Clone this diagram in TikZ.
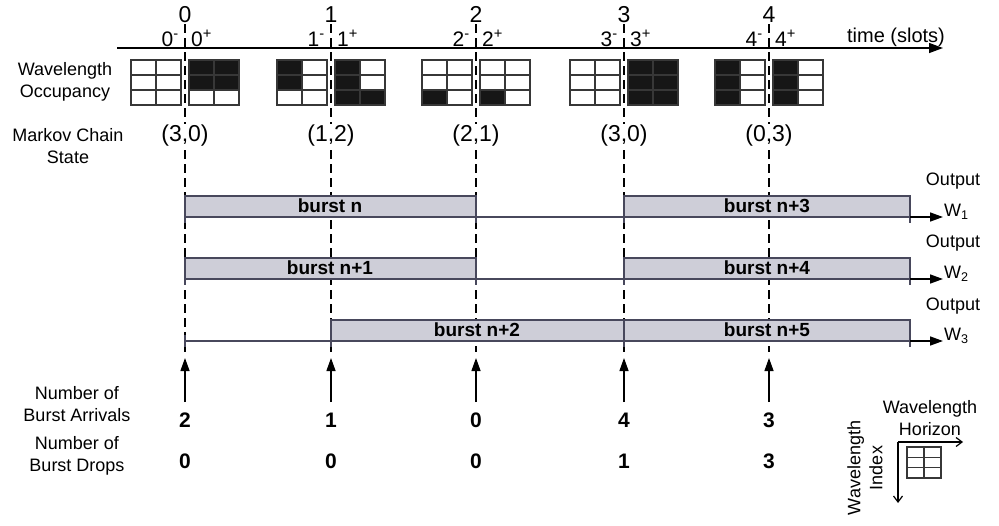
\documentclass[tikz,border=0pt]{standalone}
\usepackage{fontspec}
\setmainfont{Liberation Sans}
\usetikzlibrary{arrows.meta}
\definecolor{barfill}{RGB}{206,206,216}
\definecolor{barline}{RGB}{72,72,92}
\definecolor{cellblack}{RGB}{22,22,22}
\definecolor{gridcol}{RGB}{55,55,55}
\newcommand{\occcell}[2]{\fill[cellblack] ({(#1)*25},{(#2)*15}) rectangle ++(25,15);}
\newcommand{\occgrid}[2]{%
  \begin{scope}[shift={(#1,60)}]
    #2
    \draw[gridline] (0,0) rectangle (50,45) (25,0) -- (25,45) (0,15) -- (50,15) (0,30) -- (50,30);
  \end{scope}}
\begin{document}
\begin{tikzpicture}[x=1pt,y=-1pt,
  lbl/.style={font=\fontsize{18}{22}\selectfont, inner sep=0pt, align=center},
  tnum/.style={font=\fontsize{23}{25}\selectfont, inner sep=0pt},
  tsub/.style={font=\fontsize{21}{23}\selectfont, inner sep=0pt},
  state/.style={font=\fontsize{23}{25}\selectfont, inner sep=1pt, fill=white},
  bnum/.style={font=\fontsize{21}{23}\selectfont\bfseries, inner sep=0pt},
  blabel/.style={font=\fontsize{19}{21}\selectfont\bfseries, inner sep=0pt},
  dashline/.style={line width=1.2pt, dash pattern=on 9pt off 5pt},
  axisline/.style={line width=1.3pt, -{Triangle[length=14pt,width=10pt]}},
  barbox/.style={fill=barfill, draw=barline, line width=1.5pt},
  baseln/.style={draw=barline, line width=1.5pt},
  outarrow/.style={line width=1.5pt, -{Triangle[length=13pt,width=9pt]}},
  uparrow/.style={line width=1.3pt, -{Triangle[length=13pt,width=9pt]}},
  legarrow/.style={line width=1.2pt, -{Straight Barb[length=6pt,width=9pt]}},
  gridline/.style={draw=gridcol, line width=1.5pt}
]
\useasboundingbox (0,0) rectangle (999,525);

% time axis
\coordinate (ax0) at (117,48);
\coordinate (ax1) at (943,48);
\draw[axisline] (ax0) -- (ax1);
\node[font=\fontsize{20}{22}\selectfont, inner sep=0pt, anchor=base] (tlab) at (896,42) {time (slots)};

% dashed lines, top labels
\foreach \i/\x in {0/185,1/331,2/476,3/624,4/769} {
  \coordinate (dt\i) at (\x,24);
  \coordinate (db\i) at (\x,352);
  \draw[dashline] (dt\i) -- (db\i);
  \node[tnum, anchor=base] (t\i) at (\x,22) {\i};
  \node[tsub, anchor=base east] (tm\i) at (\x-6,46) {\i\textsuperscript{-}};
  \node[tsub, anchor=base west] (tp\i) at (\x+6,46) {\i\textsuperscript{+}};
}

% left labels
\node[lbl] (occ) at (65,82) {Wavelength\\Occupancy};
\node[lbl] (mcs) at (68,146) {Markov Chain\\State};
\node[lbl] (arr) at (77,404) {Number of\\Burst Arrivals};
\node[lbl] (drp) at (77,456) {Number of\\Burst Drops};

% occupancy grids
\occgrid{131}{}
\occgrid{189}{\occcell{0}{0}\occcell{1}{0}\occcell{0}{1}\occcell{1}{1}}
\occgrid{277}{\occcell{0}{0}\occcell{0}{1}}
\occgrid{335}{\occcell{0}{0}\occcell{0}{1}\occcell{0}{2}\occcell{1}{2}}
\occgrid{422}{\occcell{0}{2}}
\occgrid{480}{\occcell{0}{2}}
\occgrid{570}{}
\occgrid{628}{\occcell{0}{0}\occcell{1}{0}\occcell{0}{1}\occcell{1}{1}\occcell{0}{2}\occcell{1}{2}}
\occgrid{715}{\occcell{0}{0}\occcell{0}{1}\occcell{0}{2}}
\occgrid{773}{\occcell{0}{0}\occcell{0}{1}\occcell{0}{2}}

% Markov chain states
\node[state] (s0) at (185,136) {(3,0)};
\node[state] (s1) at (331,136) {(1,2)};
\node[state] (s2) at (476,136) {(2,1)};
\node[state] (s3) at (624,136) {(3,0)};
\node[state] (s4) at (769,136) {(0,3)};

% row 1
\draw[baseln] (185,217) -- (624,217);
\draw[barbox] (185,196) rectangle (476,217);
\draw[barbox] (624,196) rectangle (910,217);
\foreach \x in {185,476,624,910} \draw[baseln] (\x,196) -- (\x,223);
\node[blabel] (b0) at (330,206) {burst n};
\node[blabel] (b3) at (767,206) {burst n+3};
\coordinate (o1s) at (910,217); \coordinate (o1e) at (943,217);
\draw[outarrow] (o1s) -- (o1e);
\node[lbl] (out1) at (953,181) {Output};
\node[lbl, anchor=west] (w1) at (944,212) {W\textsubscript{1}};

% row 2
\draw[baseln] (185,279) -- (624,279);
\draw[barbox] (185,258) rectangle (476,279);
\draw[barbox] (624,258) rectangle (910,279);
\foreach \x in {185,476,624,910} \draw[baseln] (\x,258) -- (\x,285);
\node[blabel] (b1) at (330,268) {burst n+1};
\node[blabel] (b4) at (767,268) {burst n+4};
\coordinate (o2s) at (910,279); \coordinate (o2e) at (943,279);
\draw[outarrow] (o2s) -- (o2e);
\node[lbl] (out2) at (953,243) {Output};
\node[lbl, anchor=west] (w2) at (944,274) {W\textsubscript{2}};

% row 3
\draw[baseln] (185,341) -- (331,341);
\draw[barbox] (331,320) rectangle (624,341);
\draw[barbox] (624,320) rectangle (910,341);
\draw[baseln] (185,335) -- (185,347);
\foreach \x in {331,624,910} \draw[baseln] (\x,320) -- (\x,347);
\node[blabel] (b2) at (477,330) {burst n+2};
\node[blabel] (b5) at (767,330) {burst n+5};
\coordinate (o3s) at (910,341); \coordinate (o3e) at (943,341);
\draw[outarrow] (o3s) -- (o3e);
\node[lbl] (out3) at (953,306) {Output};
\node[lbl, anchor=west] (w3) at (944,336) {W\textsubscript{3}};

% arrivals arrows and numbers
\foreach \i/\x/\a/\d in {0/185/2/0,1/331/1/0,2/476/0/0,3/624/4/1,4/769/3/3} {
  \coordinate (as\i) at (\x,402);
  \coordinate (ae\i) at (\x,358);
  \draw[uparrow] (as\i) -- (ae\i);
  \node[bnum] (na\i) at (\x,420) {\a};
  \node[bnum] (nd\i) at (\x,461) {\d};
}

% legend
\node[lbl] (lh) at (930,418) {Wavelength\\Horizon};
\node[lbl, rotate=90] (li) at (865,468) {Wavelength\\Index};
\coordinate (lc) at (898,442);
\coordinate (lx) at (963,442);
\coordinate (ly) at (898,503);
\draw[legarrow] (lc) -- (lx);
\draw[legarrow] (lc) -- (ly);
\draw[gridline, line width=1.3pt] (907,447) rectangle (941,478) (924,447) -- (924,478) (907,457.3) -- (941,457.3) (907,467.7) -- (941,467.7);
\end{tikzpicture}
\end{document}
